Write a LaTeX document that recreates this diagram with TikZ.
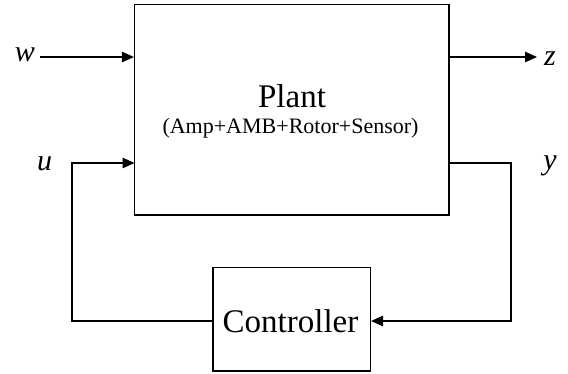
\documentclass[tikz,border=0pt]{standalone}
\usepackage{fontspec}
\setmainfont{Liberation Serif}
\usetikzlibrary{arrows.meta}
\begin{document}
\begin{tikzpicture}[x=1pt,y=-1pt,
  line width=1.2pt,
  blockbox/.style={draw, line width=1.2pt, inner sep=0pt},
  sig/.style={-{Triangle[length=12pt,width=10.5pt]}},
  port/.style={font=\fontsize{30}{30}\selectfont\itshape, inner sep=0pt}]
\useasboundingbox (0,0) rectangle (568,373);

% blocks
\node[blockbox, minimum width=314.5pt, minimum height=210.5pt] (plant) at (291.75,109.75) {};
\node[blockbox, minimum width=157.5pt, minimum height=103.5pt] (ctrl) at (291.75,319.25) {};

% block texts
\node[anchor=base, inner sep=0pt, font=\fontsize{33}{33}\selectfont] (ptitle) at (292,107) {Plant};
\node[anchor=base, inner sep=0pt, font=\fontsize{22}{22}\selectfont] (psub) at (290.5,133) {(Amp+AMB+Rotor+Sensor)};
\node[anchor=base, inner sep=0pt, font=\fontsize{33}{33}\selectfont] (ctitle) at (290.5,332) {Controller};

% signal labels
\node[port] (wl) at (25,55) {w};
\node[port] (ul) at (44.5,164) {u};
\node[port] (zl) at (550,59) {z};
\node[port] (yl) at (550,166) {y};

% connector end points and bends
\coordinate (win) at (40,57);
\coordinate (zout) at (537,57);
\coordinate (uport) at (134.5,163);
\coordinate (yport) at (449,163);
\coordinate (ubend) at (72,163);
\coordinate (ybend) at (511,163);
\coordinate (cy) at (0,321);

% connectors
\draw[sig] (win) -- (win -| plant.west);
\draw[sig] (plant.east |- win) -- (zout);
\draw[sig] (ctrl.west |- cy) -- (ubend |- cy) -- (ubend) -- (uport);
\draw[sig] (yport) -- (ybend) -- (ybend |- cy) -- (ctrl.east |- cy);
\end{tikzpicture}
\end{document}
